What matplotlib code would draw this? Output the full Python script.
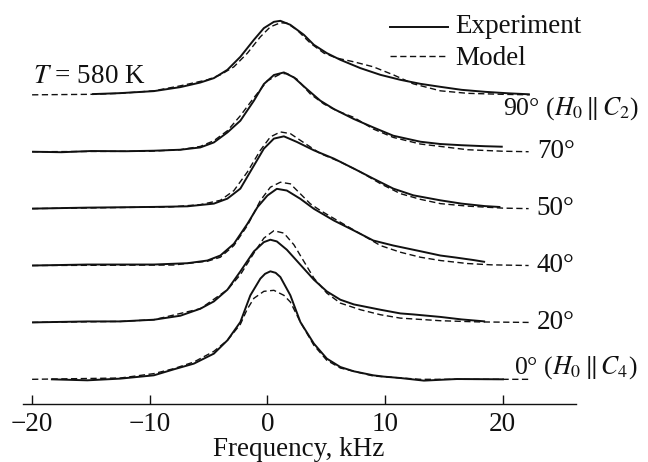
import matplotlib
matplotlib.use("Agg")
import matplotlib.pyplot as plt

plt.rcParams['font.family'] = ['Liberation Serif', 'DejaVu Serif']
plt.rcParams['mathtext.fontset'] = 'stix'

# ---------------- data (frequency in kHz, intensity in arb. units) ----------------
angles = ["0°", "20°", "40°", "50°", "70°", "90°"]

exp_90_f = [-14.9, -12.5, -9.65, -7.4, -5.7, -4.55, -3.4, -2.3, -1.15, -0.3, 0.55, 1.1, 1.95, 3.1, 3.95,
            5.05, 6.2, 7.9, 9.6, 11.3, 13.0, 14.7, 16.5, 18.5, 20.5, 22.3]
exp_90_i = [0.7, 1.7, 3.7, 7.7, 12.3, 16.7, 25, 38, 55, 66.7, 73, 74, 70, 60, 50,
            41.7, 35, 26.7, 20, 15, 11, 8, 5, 3, 1.5, 0.5]
mod_90_f = [-20, -15, -12.5, -9.65, -7.4, -5.1, -4.0, -2.85, -1.7, -0.6, 0.25, 1.1, 1.65, 2.5, 3.65,
            4.8, 5.9, 7.35, 9.0, 10.7, 12.4, 14.7, 17, 20, 22.3]
mod_90_i = [0, 0.5, 1.5, 4, 9, 15, 20, 28, 41.7, 58, 68, 72, 71.7, 65, 51.7,
            41.7, 36.7, 33, 28, 20, 11, 4, 1.5, 0.5, 0]

exp_70_f = [-20, -17.5, -15, -12, -9.65, -7.4, -5.7, -4.55, -3.4, -2.3, -1.15, -0.3, 0.55, 1.4, 2.25,
            3.35, 4.5, 5.65, 7.35, 9.0, 10.7, 13.0, 14.7, 16.5, 18.5, 20.0]
exp_70_i = [0, -0.5, 0.7, 0.5, 1, 2, 4.3, 9.3, 19.3, 31, 51, 67.7, 76.7, 79.3, 74.3,
            62.7, 51, 42.7, 32.7, 24.3, 16, 10, 7.7, 6.5, 5.5, 5]
mod_70_f = [-20, -10, -7.4, -5.7, -4.55, -3.4, -2.3, -1.15, 0.0, 1.1, 1.65, 2.5, 3.65, 4.8, 5.9,
            7.35, 9.0, 10.7, 13.0, 14.7, 17, 20, 22.2]
mod_70_i = [0, 0.5, 2, 5.3, 11, 21, 36, 54, 71, 77.7, 78.3, 72.7, 57.7, 47.7, 41,
            34.3, 22.7, 14.3, 7.7, 5.3, 2, 0.5, 0]

exp_50_f = [-20, -15.3, -9.65, -6.8, -4.55, -3.4, -2.3, -1.15, -0.3, 0.55, 1.4, 2.5, 3.95, 5.65, 7.35,
            9.0, 10.7, 12.4, 14.7, 16.5, 18.5, 19.8]
exp_50_i = [0, 1, 1.7, 2.3, 5, 10, 20, 43, 60, 70, 72.3, 66.7, 58.3, 50, 40,
            30, 20, 13.3, 8.3, 5, 2.5, 1.6]
mod_50_f = [-20, -8.2, -5.7, -4.0, -2.85, -1.7, -0.6, 0.25, 1.1, 1.95, 2.8, 4.5, 6.2, 7.9, 9.6,
            11.3, 13.0, 14.7, 17, 20, 22.2]
mod_50_i = [0, 1.7, 4, 8.3, 18, 36.7, 58.3, 71.7, 76.7, 75, 68.3, 55, 46.7, 36.7, 25,
            15, 9.3, 5, 2.5, 0.5, 0]

exp_40_f = [-20, -15.3, -9.65, -6.8, -5.1, -4.0, -2.85, -1.7, -0.85, 0.0, 0.8, 1.65, 2.8, 3.95, 5.65,
            7.35, 9.0, 10.7, 13.0, 14.7, 16.0, 17.5, 18.5]
exp_40_i = [0, 1, 1, 2.3, 5, 10, 21.7, 41.7, 58.3, 70, 76.7, 75, 66.7, 56.7, 45,
            35, 25, 20, 14.3, 10, 8, 5.5, 3.6]
mod_40_f = [-20, -8, -5.1, -4.0, -2.85, -1.7, -0.6, 0.25, 1.1, 1.95, 2.8, 3.65, 4.5, 6.2, 7.9,
            9.6, 11.3, 13.0, 14.7, 17, 19, 22.2]
mod_40_i = [0, 0.5, 4.3, 8.3, 20, 40, 65, 78.3, 83.3, 81.7, 71.7, 61.7, 55, 43.3, 31.7,
            20, 13.3, 8.3, 5, 2, 0.7, 0]

exp_20_f = [-20, -15.3, -12.5, -9.65, -7.4, -5.7, -4.55, -3.4, -2.3, -1.15, -0.3, 0.25, 0.8, 1.65, 2.8,
            3.95, 5.05, 6.2, 7.35, 9.6, 11.3, 12.4, 14.7, 16.5, 18.5]
exp_20_i = [0, 1, 1, 2.7, 6.7, 13.7, 21, 32.7, 51, 71, 80.3, 82.7, 81, 72.7, 57.7,
            42.7, 31, 22.7, 18, 12.7, 9, 8, 5.5, 3, 1]
mod_20_f = [-20, -12.5, -9.65, -5.7, -3.4, -2.3, -1.15, -0.3, 0.55, 1.4, 2.25, 3.1, 3.95, 5.05, 6.2,
            7.9, 9.6, 11.3, 14.7, 18, 22.2]
mod_20_i = [0, 1, 2.7, 13.7, 32.7, 47.7, 69.3, 84.3, 91.7, 89.3, 77.7, 61, 44.3, 29.3, 19.3,
            12.7, 7.7, 4.3, 1.7, 0.5, 0]

exp_0_f = [-18.4, -15.3, -12.5, -9.65, -7.95, -6.25, -4.55, -3.4, -2.3, -1.45, -0.6, -0.2, 0.25, 0.7, 1.1,
           1.95, 2.8, 3.95, 5.05, 6.2, 7.35, 9.0, 9.9, 11.3, 13.3, 16.1, 20.1]
exp_0_i = [0, -1, 0.7, 4, 10, 15.7, 25.7, 39, 57.3, 84, 100.7, 105.5, 108, 106.5, 102.3,
           84, 57.3, 35.7, 20.7, 12.3, 8, 4, 2.7, 1.3, -1.3, 0.3, 0]
mod_0_f = [-20, -12.5, -9.65, -7.95, -6.25, -4.55, -3.4, -2.3, -1.72, -1.15, -0.3, 0.55, 1.4, 1.95, 2.8,
           3.95, 5.05, 6.2, 9.0, 13, 22.4]
mod_0_i = [0, 1.3, 5.7, 10.7, 17.3, 28, 39, 55, 70, 81, 88, 89, 84, 77.3, 57.3,
           34, 19, 11.3, 3.3, 0, 0]

experiment = [(exp_0_f, exp_0_i), (exp_20_f, exp_20_i), (exp_40_f, exp_40_i),
              (exp_50_f, exp_50_i), (exp_70_f, exp_70_i), (exp_90_f, exp_90_i)]
model = [(mod_0_f, mod_0_i), (mod_20_f, mod_20_i), (mod_40_f, mod_40_i),
         (mod_50_f, mod_50_i), (mod_70_f, mod_70_i), (mod_90_f, mod_90_i)]

x_ticks = [-20, -10, 0, 10, 20]

# ---------------- figure ----------------
fig = plt.figure(figsize=(6.48, 4.62), dpi=100)
ax = fig.add_axes([0.035, 0.1255, 0.8534, 0.8528])

step = 56.9
ink = '#111111'
for k, ((ef, ei), (mf, mi)) in enumerate(zip(experiment, model)):
    off = k * step
    ax.plot(mf, [v + off for v in mi], color=ink, lw=1.0, ls=(0, (4.5, 2.5)))
    ax.plot(ef, [v + off for v in ei], color=ink, lw=1.4, solid_capstyle='butt',
            solid_joinstyle='round')

ax.set_xlim(-20.8, 26.2)
ax.set_ylim(-24.7, 369.3)

for s in ['left', 'right', 'top']:
    ax.spines[s].set_visible(False)
ax.spines['bottom'].set_linewidth(1.0)
ax.spines['bottom'].set_color(ink)
ax.set_yticks([])
ax.set_xticks(x_ticks)
fs = 19.5
ax.tick_params(axis='x', direction='in', length=6.5, width=1.0, pad=6,
               labelsize=fs, colors=ink)
ax.set_xlabel('Frequency, kHz', fontsize=fs, color=ink, labelpad=0)

# right-hand angle labels
ax.text(20.0, 5 * step - 20, '90° ($H_0\\,\\|\\,C_2$)', fontsize=18.5, color=ink,
        ha='left', va='baseline')
for k in (1, 2, 3, 4):
    ax.text(22.9, k * step, angles[k], fontsize=fs, color=ink, ha='left', va='center')
ax.text(21.0, 6.0, '0° ($H_0\\,\\|\\,C_4$)', fontsize=18.5, color=ink,
        ha='left', va='baseline')

ax.text(-19.9, 296, '$T$ = 580 K', fontsize=fs, color=ink, ha='left', va='baseline')

# legend
ax.plot([10.44, 15.39], [352.3, 352.3], color=ink, lw=1.4, clip_on=False)
ax.plot([10.44, 15.39], [323.8, 323.8], color=ink, lw=1.0, ls=(0, (4.5, 2.5)), clip_on=False)
ax.text(15.96, 346.3, 'Experiment', fontsize=fs, color=ink, ha='left', va='baseline')
ax.text(15.96, 314.3, 'Model', fontsize=fs, color=ink, ha='left', va='baseline')

fig.savefig('out.png', dpi=100)
